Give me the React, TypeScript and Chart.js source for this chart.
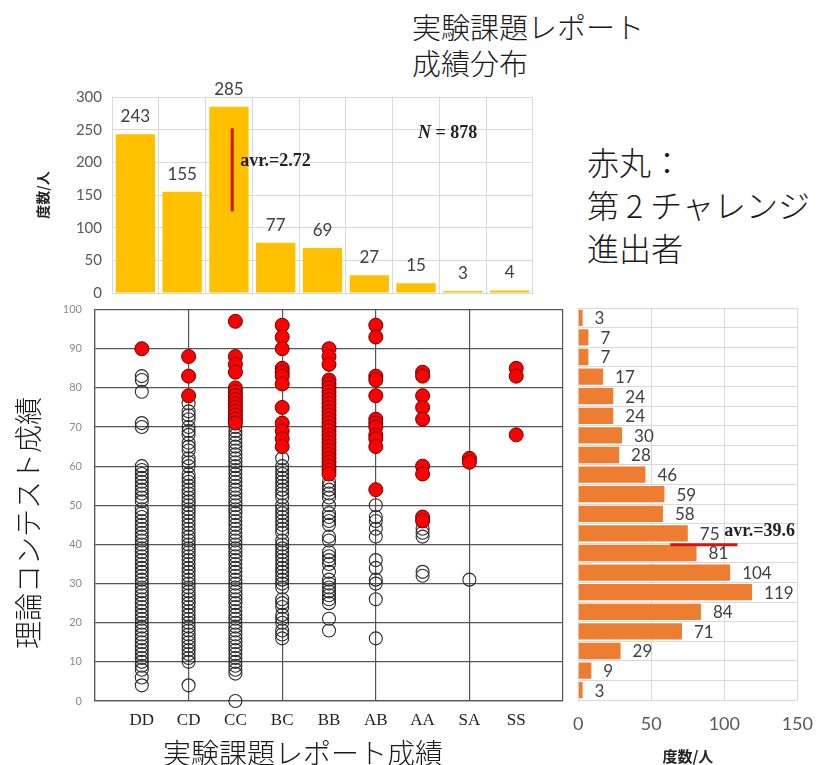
import React, { useEffect, useRef } from 'react';
import { Chart, registerables } from 'chart.js';

Chart.register(...registerables);

// ---- Report grade distribution (top histogram) ----
const grades = ['DD', 'CD', 'CC', 'BC', 'BB', 'AB', 'AA', 'SA', 'SS'];
const gradeCounts = [243, 155, 285, 77, 69, 27, 15, 3, 4];
const gradeAverageLabel = 'avr.=2.72';
const totalStudents = 878;
const gradeAxisTicks = [0, 50, 100, 150, 200, 250, 300];

// ---- Contest score distribution (right histogram, 5-point bins) ----
const scoreBinStarts = [0, 5, 10, 15, 20, 25, 30, 35, 40, 45, 50, 55, 60, 65, 70, 75, 80, 85, 90, 95];
const scoreBinCounts = [3, 9, 29, 71, 84, 119, 104, 81, 75, 58, 59, 46, 28, 30, 24, 24, 17, 7, 7, 3];
const scoreAverage = 39.6;
const countAxisTicks = [0, 50, 100, 150];

// ---- Contest score per report grade (scatter) ----
// open circles: not advanced; red: advanced to the 2nd challenge
const openDD = [83, 82, 79, 71, 70, 60, 59, 58, 57, 56, 55, 54, 53, 52, 51, 49, 48, 47, 46, 45, 44, 43, 42, 41, 40, 39, 38, 37, 36, 35, 34, 33, 32, 31, 30, 29, 28, 27, 26, 25, 24, 23, 22, 21, 20, 19, 18, 17, 16, 15, 14, 13, 12, 11, 10, 9, 8, 6, 4];
const redDD = [90];
const openCD = [76, 74, 73, 72, 70, 69, 68, 66, 65, 64, 62, 61, 60, 58, 57, 56, 55, 54, 53, 52, 51, 50, 49, 48, 47, 46, 45, 44, 43, 42, 41, 40, 39, 38, 37, 36, 35, 34, 33, 32, 31, 30, 29, 28, 27, 26, 25, 24, 23, 22, 21, 20, 19, 18, 17, 16, 15, 14, 13, 12, 11, 10, 4];
const redCD = [88, 83, 78];
const openCC = [70, 69, 68, 67, 66, 65, 64, 63, 62, 61, 60, 59, 58, 57, 56, 55, 54, 53, 52, 51, 50, 49, 48, 47, 46, 45, 44, 43, 42, 41, 40, 39, 38, 37, 36, 35, 34, 33, 32, 31, 30, 29, 28, 27, 26, 25, 24, 23, 22, 21, 20, 19, 18, 17, 16, 15, 14, 13, 12, 11, 10, 9, 8, 7, 0];
const redCC = [97, 88, 86, 84, 80, 79, 78, 77, 76, 75, 74, 73, 72, 71];
const openBC = [62, 60, 59, 58, 57, 56, 55, 54, 53, 52, 50, 49, 48, 47, 46, 45, 44, 43, 41, 40, 39, 38, 37, 36, 35, 34, 33, 32, 31, 30, 29, 26, 25, 24, 22, 21, 20, 18, 17, 16];
const redBC = [96, 93, 90, 85, 84, 83, 81, 75, 71, 69, 67, 65];
const openBB = [56, 55, 54, 53, 52, 50, 48, 47, 46, 45, 42, 41, 38, 37, 36, 35, 33, 31, 30, 29, 28, 27, 26, 25, 21, 18];
const redBB = [90, 88, 86, 82, 81, 80, 79, 78, 77, 76, 75, 74, 73, 72, 71, 70, 69, 68, 67, 66, 65, 64, 63, 62, 61, 60, 59, 58];
const openAB = [50, 47, 46, 44, 42, 36, 34, 31, 30, 26, 16];
const redAB = [96, 93, 83, 82, 78, 72, 71, 70, 68, 67, 65, 54];
const openAA = [44, 43, 42, 33, 32];
const redAA = [84, 83, 78, 75, 72, 60, 58, 47, 46];
const openSA = [31];
const redSA = [62, 61];
const openSS: number[] = [];
const redSS = [85, 83, 68];

const openByGrade = [openDD, openCD, openCC, openBC, openBB, openAB, openAA, openSA, openSS];
const redByGrade = [redDD, redCD, redCC, redBC, redBB, redAB, redAA, redSA, redSS];

const toPoints = (groups: number[][]) =>
  groups.flatMap((scores, i) => scores.map((s) => ({ x: i + 1, y: s })));

const CJK = '"Noto Sans CJK JP", "Noto Sans", sans-serif';
const SANS = 'Lato, "Noto Sans", sans-serif';
const SERIF = '"Liberation Serif", "DejaVu Serif", serif';

function GradeHistogram() {
  const ref = useRef<HTMLCanvasElement>(null);
  useEffect(() => {
    const notes = {
      id: 'gradeNotes',
      afterDatasetsDraw(chart: any) {
        const { ctx } = chart;
        const xs = chart.scales.x;
        const ys = chart.scales.y;
        const meta = chart.getDatasetMeta(0);
        ctx.save();
        ctx.fillStyle = '#404040';
        ctx.font = `17px ${SANS}`;
        ctx.textAlign = 'center';
        ctx.textBaseline = 'bottom';
        meta.data.forEach((bar: any, i: number) => {
          ctx.fillText(String(gradeCounts[i]), bar.x, bar.y - 9);
        });
        // average marker
        const lx = xs.getPixelForValue(2.07);
        ctx.strokeStyle = '#d81010';
        ctx.lineWidth = 3;
        ctx.beginPath();
        ctx.moveTo(lx, ys.getPixelForValue(252));
        ctx.lineTo(lx, ys.getPixelForValue(125));
        ctx.stroke();
        ctx.fillStyle = '#222';
        ctx.textAlign = 'left';
        ctx.textBaseline = 'middle';
        ctx.font = `bold 18px ${SERIF}`;
        ctx.fillText(gradeAverageLabel, lx + 8, ys.getPixelForValue(201));
        // sample size
        const nx = xs.getPixelForValue(6.04);
        const ny = ys.getPixelForValue(244);
        ctx.font = `italic bold 18px ${SERIF}`;
        ctx.fillText('N', nx, ny);
        const w = ctx.measureText('N').width;
        ctx.font = `bold 18px ${SERIF}`;
        ctx.fillText(` = ${totalStudents}`, nx + w, ny);
        ctx.restore();
      },
    };
    const chart = new Chart(ref.current!, {
      type: 'bar',
      data: {
        labels: grades,
        datasets: [
          {
            data: gradeCounts,
            backgroundColor: '#FFC000',
            barPercentage: 0.84,
            categoryPercentage: 1,
          },
        ],
      },
      options: {
        responsive: false,
        animation: false,
        layout: { padding: { top: 19, right: 7, bottom: 8, left: 0 } },
        plugins: { legend: { display: false }, tooltip: { enabled: false } },
        scales: {
          x: {
            ticks: { display: false },
            grid: { color: '#d9d9d9', drawTicks: false },
            border: { color: '#d9d9d9' },
            afterFit: (s: any) => {
              s.height = 0;
            },
          },
          y: {
            min: 0,
            max: 300,
            afterBuildTicks: (s: any) => {
              s.ticks = gradeAxisTicks.map((v) => ({ value: v }));
            },
            ticks: { color: '#595959', font: { size: 15, family: SANS }, padding: 10 },
            grid: { color: '#d9d9d9', drawTicks: false },
            border: { display: false },
            title: {
              display: true,
              text: '度数/人',
              color: '#222',
              font: { size: 14, weight: 'bold', family: CJK },
              padding: { top: 4, bottom: 2 },
            },
            afterFit: (s: any) => {
              s.width = 82;
            },
          },
        },
      },
      plugins: [notes],
    } as any);
    return () => chart.destroy();
  }, []);
  return (
    <canvas
      ref={ref}
      width={510}
      height={234}
      style={{ position: 'absolute', left: 30, top: 78 }}
    />
  );
}

function ScoreScatter() {
  const ref = useRef<HTMLCanvasElement>(null);
  useEffect(() => {
    const chart = new Chart(ref.current!, {
      type: 'scatter',
      data: {
        datasets: [
          {
            data: toPoints(redByGrade),
            pointRadius: 7,
            pointBackgroundColor: '#ff0000',
            pointBorderColor: '#6a0000',
            pointBorderWidth: 1,
            clip: false,
          },
          {
            data: toPoints(openByGrade),
            pointRadius: 6.5,
            pointBackgroundColor: 'rgba(255,255,255,0)',
            pointBorderColor: '#2a2a2a',
            pointBorderWidth: 1.1,
            clip: false,
          },
        ],
      },
      options: {
        responsive: false,
        animation: false,
        layout: { padding: { top: 13, right: 5, bottom: 0, left: 0 } },
        plugins: { legend: { display: false }, tooltip: { enabled: false } },
        scales: {
          x: {
            type: 'linear',
            min: 0,
            max: 10,
            ticks: {
              stepSize: 1,
              autoSkip: false,
              maxRotation: 0,
              color: '#222',
              padding: 9,
              font: { size: 17, family: SERIF },
              callback: (v: any) => grades[Number(v) - 1] ?? '',
            },
            grid: {
              drawTicks: false,
              lineWidth: 1.2,
              color: (c: any) =>
                c.tick && c.tick.value % 2 === 0 ? '#555' : 'rgba(0,0,0,0)',
            },
            border: { color: '#555', width: 1.2 },
            afterFit: (s: any) => {
              s.height = 35;
            },
          },
          y: {
            min: 0,
            max: 100,
            ticks: {
              stepSize: 10,
              color: '#8a8a8a',
              padding: 13,
              font: { size: 11, family: SANS },
            },
            grid: { color: '#555', lineWidth: 1.2, drawTicks: false },
            border: { color: '#555', width: 1.2 },
            afterFit: (s: any) => {
              s.width = 45;
            },
          },
        },
      },
    } as any);
    return () => chart.destroy();
  }, []);
  return (
    <canvas
      ref={ref}
      width={522}
      height={446}
      style={{ position: 'absolute', left: 50, top: 290 }}
    />
  );
}

function ScoreHistogram() {
  const ref = useRef<HTMLCanvasElement>(null);
  useEffect(() => {
    const notes = {
      id: 'scoreNotes',
      afterDatasetsDraw(chart: any) {
        const { ctx } = chart;
        const xs = chart.scales.x;
        const ys = chart.scales.y;
        const meta = chart.getDatasetMeta(0);
        ctx.save();
        ctx.fillStyle = '#404040';
        ctx.font = `17px ${SANS}`;
        ctx.textAlign = 'left';
        ctx.textBaseline = 'middle';
        meta.data.forEach((bar: any, i: number) => {
          ctx.fillText(String(scoreBinCounts[i]), bar.x + 12, bar.y + 1);
        });
        const ay = ys.getPixelForValue(scoreAverage);
        ctx.strokeStyle = '#e01010';
        ctx.lineWidth = 3;
        ctx.beginPath();
        ctx.moveTo(xs.getPixelForValue(63), ay);
        ctx.lineTo(xs.getPixelForValue(109), ay);
        ctx.stroke();
        ctx.fillStyle = '#222';
        ctx.font = `bold 18px ${SERIF}`;
        ctx.fillText(`avr.=${scoreAverage}`, xs.getPixelForValue(100), ys.getPixelForValue(42.9));
        ctx.restore();
      },
    };
    const chart = new Chart(ref.current!, {
      type: 'bar',
      data: {
        datasets: [
          {
            data: scoreBinStarts.map((b, i) => ({ x: scoreBinCounts[i], y: b + 2.5 })),
            backgroundColor: '#ED7D31',
            barPercentage: 0.83,
            categoryPercentage: 1,
          },
        ],
      },
      options: {
        indexAxis: 'y',
        responsive: false,
        animation: false,
        layout: { padding: { top: 13, right: 24, bottom: 0, left: 17 } },
        plugins: { legend: { display: false }, tooltip: { enabled: false } },
        scales: {
          x: {
            type: 'linear',
            min: 0,
            max: 150,
            afterBuildTicks: (s: any) => {
              s.ticks = countAxisTicks.map((v) => ({ value: v }));
            },
            ticks: { color: '#595959', padding: 13, font: { size: 18, family: SANS } },
            grid: { color: '#d9d9d9', drawTicks: false },
            border: { display: false },
            title: {
              display: true,
              text: '度数/人',
              color: '#222',
              font: { size: 15, weight: 'bold', family: CJK },
              padding: { top: 4, bottom: 0 },
            },
            afterFit: (s: any) => {
              s.height = 65;
            },
          },
          y: {
            type: 'linear',
            min: 0,
            max: 100,
            offset: false,
            ticks: { display: false, stepSize: 5 },
            grid: { color: '#d9d9d9', drawTicks: false, offset: false },
            border: { display: false },
            afterFit: (s: any) => {
              s.width = 0;
            },
          },
        },
      },
      plugins: [notes],
    } as any);
    return () => chart.destroy();
  }, []);
  return (
    <canvas
      ref={ref}
      width={266}
      height={470}
      style={{ position: 'absolute', left: 560, top: 295 }}
    />
  );
}

export default function App() {
  const text: React.CSSProperties = {
    position: 'absolute',
    fontFamily: CJK,
    color: '#1a1a1a',
    whiteSpace: 'nowrap',
    fontWeight: 300,
  };
  return (
    <div
      style={{
        position: 'absolute',
        left: 0,
        top: 0,
        width: 826,
        height: 765,
        background: '#fff',
        overflow: 'hidden',
      }}
    >
      <div style={{ ...text, left: 412, top: 8, fontSize: 29, lineHeight: '36px' }}>
        実験課題レポート
        <br />
        成績分布
      </div>
      <div style={{ ...text, left: 587, top: 140, fontSize: 32, lineHeight: '43px' }}>
        赤丸：
        <br />
        第 2 チャレンジ
        <br />
        進出者
      </div>
      <GradeHistogram />
      <ScoreScatter />
      <ScoreHistogram />
      <div
        style={{
          ...text,
          left: 27,
          top: 523,
          fontSize: 28,
          transform: 'translate(-50%, -50%) rotate(-90deg)',
        }}
      >
        理論コンテスト成績
      </div>
      <div
        style={{
          ...text,
          left: 303,
          top: 752,
          fontSize: 28,
          transform: 'translate(-50%, -50%)',
        }}
      >
        実験課題レポート成績
      </div>
    </div>
  );
}
